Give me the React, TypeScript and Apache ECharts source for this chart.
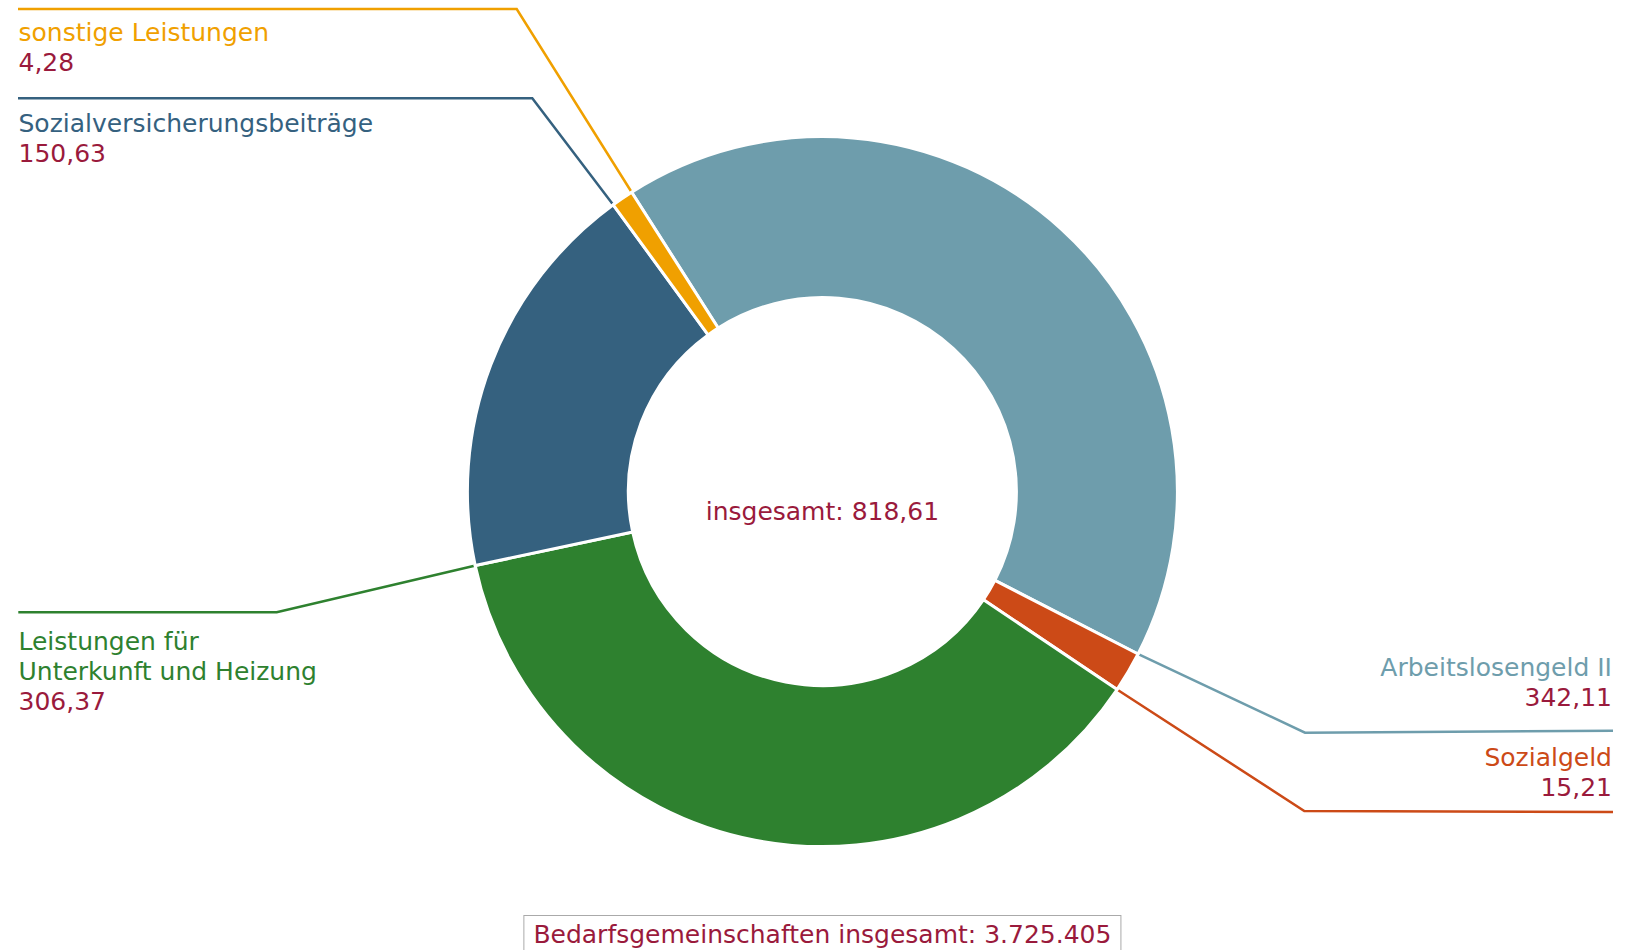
import React, { useEffect, useRef } from "react";
import * as echarts from "echarts";

// ---------- data ----------
const categories = [
  "Arbeitslosengeld II",
  "Sozialgeld",
  "Leistungen für Unterkunft und Heizung",
  "Sozialversicherungsbeiträge",
  "sonstige Leistungen",
];
const values = [342.11, 15.21, 306.37, 150.63, 4.28];
const totalLabel = "insgesamt";
const totalValue = 818.61;
const householdsLabel = "Bedarfsgemeinschaften insgesamt";
const householdsValue = 3725405;

// ---------- style / layout ----------
const colors = ["#6e9dac", "#cc4a17", "#2e812f", "#35617f", "#f0a000"];
const valueColor = "#9a1a3c";
const FONT = "DejaVu Sans";
const FS = 25;
const LH = 30;
const CX = 822.4;
const CY = 491.6;
const R0 = 194;
const R = 355;
const START = 122.5;
const MIN_ANGLE = 3.6;
const LINE_W = 2.5;

const labelSpots = [
  { side: "right", x: 1612, top: 652, bend: [1305, 732.7], end: [1613, 730.7] },
  { side: "right", x: 1612, top: 742, bend: [1304.3, 811], end: [1613, 812] },
  { side: "left", x: 18.5, top: 626, bend: [276.7, 612.3], end: [18.3, 612.3] },
  { side: "left", x: 18.5, top: 108, bend: [532.3, 98.3], end: [18, 98.3] },
  { side: "left", x: 18.5, top: 17, bend: [516.7, 9], end: [18, 9] },
];

const fmt2 = (v: number) => v.toFixed(2).replace(".", ",");
const fmtInt = (n: number) => String(n).replace(/\B(?=(\d{3})+(?!\d))/g, ".");

function sliceEndAngles(): number[] {
  const sum = values.reduce((a, b) => a + b, 0);
  const raw = values.map((v) => (v / sum) * 360);
  const small = raw.map((a) => a < MIN_ANGLE);
  const rest = 360 - small.filter(Boolean).length * MIN_ANGLE;
  const largeSum = values.filter((_, i) => !small[i]).reduce((a, b) => a + b, 0);
  const angles = values.map((v, i) => (small[i] ? MIN_ANGLE : (v / largeSum) * rest));
  let a = START;
  return angles.map((d) => (a -= d));
}

export default function App() {
  const ref = useRef<HTMLDivElement>(null);

  useEffect(() => {
    if (!ref.current) return;
    document.body.style.margin = "0";
    const chart = echarts.init(ref.current, null, { renderer: "svg" });
    const ends = sliceEndAngles();

    const rich: Record<string, any> = {
      v: { color: valueColor, fontSize: FS, lineHeight: LH, fontFamily: FONT },
    };
    colors.forEach((c, i) => {
      rich["n" + i] = { color: c, fontSize: FS, lineHeight: LH, fontFamily: FONT };
    });

    chart.setOption({
      animation: false,
      backgroundColor: "#ffffff",
      series: [
        {
          type: "pie",
          center: [CX, CY],
          radius: [R0, R],
          startAngle: START,
          clockwise: true,
          minAngle: MIN_ANGLE,
          avoidLabelOverlap: false,
          itemStyle: { borderColor: "#ffffff", borderWidth: 3 },
          emphasis: { disabled: true },
          label: {
            show: true,
            position: "outside",
            fontFamily: FONT,
            fontSize: FS,
            lineHeight: LH,
            formatter: (p: any) => {
              const i = p.dataIndex;
              const name = String(p.name).replace(" für ", " für\n");
              const nameLines = name
                .split("\n")
                .map((l: string) => `{n${i}|${l}}`)
                .join("\n");
              return `${nameLines}\n{v|${fmt2(p.value)}}`;
            },
            rich,
          },
          labelLine: { show: true, lineStyle: { width: LINE_W } },
          labelLayout: (params: any) => {
            const i = params.dataIndex;
            const s = labelSpots[i];
            const ang = (ends[i] * Math.PI) / 180;
            const rr = R - 1.5;
            const sx = CX + rr * Math.cos(ang);
            const sy = CY - rr * Math.sin(ang);
            return {
              x: s.x,
              y: s.top,
              align: s.side === "right" ? "right" : "left",
              verticalAlign: "top",
              labelLinePoints: [[sx, sy], s.bend, s.end],
            };
          },
          data: categories.map((name, i) => ({
            name,
            value: values[i],
            itemStyle: { color: colors[i] },
            labelLine: { lineStyle: { color: colors[i], width: LINE_W } },
          })),
        },
      ],
      graphic: [
        {
          type: "text",
          x: CX,
          y: 511,
          style: {
            text: `${totalLabel}: ${fmt2(totalValue)}`,
            fill: valueColor,
            font: `${FS}px "${FONT}"`,
            align: "center",
            verticalAlign: "middle",
          },
        },
        {
          type: "text",
          x: CX,
          y: 934,
          style: {
            text: `${householdsLabel}: ${fmtInt(householdsValue)}`,
            fill: valueColor,
            font: `${FS}px "${FONT}"`,
            lineHeight: LH,
            align: "center",
            verticalAlign: "middle",
            backgroundColor: "#ffffff",
            borderColor: "#aaaaaa",
            borderWidth: 1,
            padding: [3, 9, 3, 9],
          },
        },
      ],
    });

    return () => chart.dispose();
  }, []);

  return (
    <div
      ref={ref}
      style={{ position: "absolute", left: 0, top: 0, width: 1626, height: 950 }}
    />
  );
}
